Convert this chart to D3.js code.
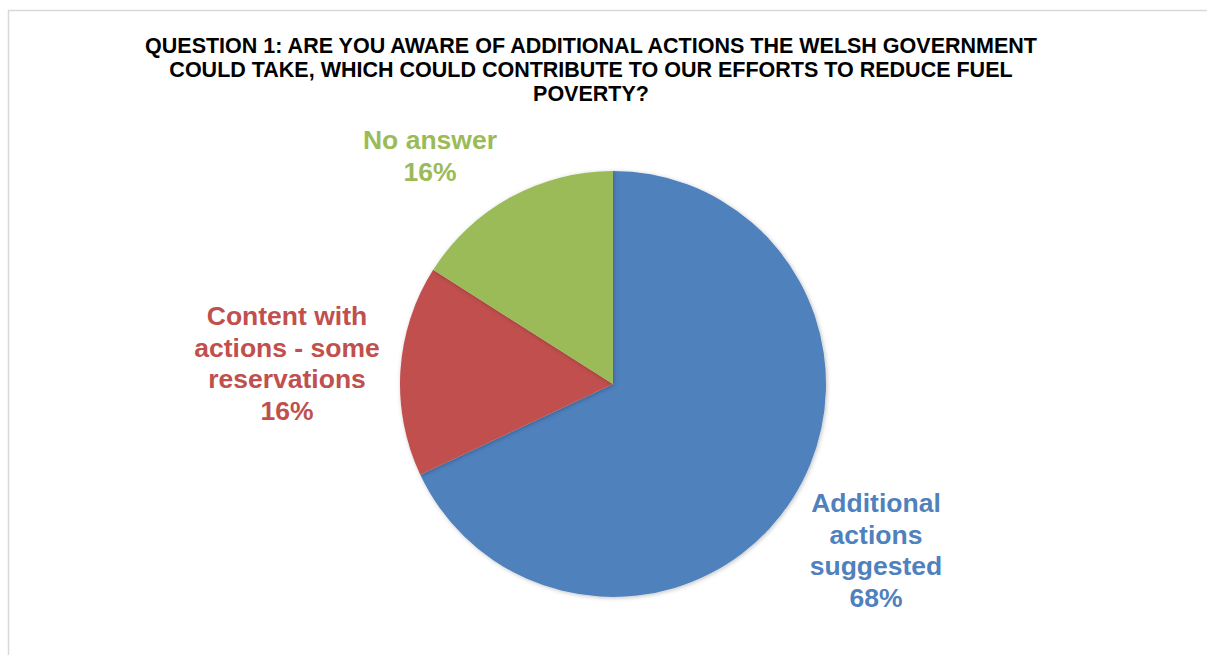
<!DOCTYPE html>
<html>
<head>
<meta charset="utf-8">
<script src="https://cdn.jsdelivr.net/npm/d3@7"></script>
<style>
  body { margin: 0; background: #fff; }
  svg { display: block; font-family: "Liberation Sans", Arial, sans-serif; }
</style>
</head>
<body>
<svg id="chart" width="1207" height="655"></svg>
<script>
const categories = ["Additional actions suggested", "Content with actions - some reservations", "No answer"];
const values = [68, 16, 16];
const colors = ["#4F81BD", "#C0504D", "#9BBB59"];
const labelLines = [
  ["Additional", "actions", "suggested"],
  ["Content with", "actions - some", "reservations"],
  ["No answer"]
];
const titleLines = [
  "QUESTION 1: ARE YOU AWARE OF ADDITIONAL ACTIONS THE WELSH GOVERNMENT",
  "COULD TAKE, WHICH COULD CONTRIBUTE TO OUR EFFORTS TO REDUCE FUEL",
  "POVERTY?"
];

const svg = d3.select("#chart");

// chart frame
svg.append("rect")
  .attr("x", 8.5).attr("y", 10.5)
  .attr("width", 1300).attr("height", 700)
  .attr("fill", "none")
  .attr("stroke", "#d9d9d9")
  .attr("stroke-width", 1.5);

svg.append("text")
  .attr("text-anchor", "middle")
  .attr("font-weight", "bold")
  .attr("font-size", 21.5)
  .attr("fill", "#000")
  .selectAll("tspan")
  .data(titleLines).enter()
  .append("tspan")
  .attr("x", 591)
  .attr("y", (d, i) => 52.5 + i * 24)
  .text(d => d);

const cx = 613, cy = 384, r = 213;
const pie = d3.pie().sort(null).value(d => d)(values);
const arc = d3.arc().innerRadius(0).outerRadius(r);

const defs = svg.append("defs");
const f = defs.append("filter").attr("id", "shadow").attr("x", "-10%").attr("y", "-10%").attr("width", "120%").attr("height", "120%");
f.append("feDropShadow").attr("dx", 1).attr("dy", 1).attr("stdDeviation", 2).attr("flood-color", "#000").attr("flood-opacity", 0.25);

const g = svg.append("g").attr("transform", `translate(${cx},${cy})`);
g.selectAll("path")
  .data(pie).enter()
  .append("path")
  .attr("d", arc)
  .attr("fill", (d, i) => colors[i])
  .attr("filter", "url(#shadow)");

// label positions (centre x, first baseline y)
const labelPos = [[876, 512], [287, 325], [430, 149]];
const lineH = 31.5;
labelLines.forEach((lines, i) => {
  const t = svg.append("text")
    .attr("text-anchor", "middle")
    .attr("font-weight", "bold")
    .attr("font-size", 26.5)
    .attr("fill", colors[i]);
  lines.concat([values[i] + "%"]).forEach((s, j) => {
    t.append("tspan")
      .attr("x", labelPos[i][0])
      .attr("y", labelPos[i][1] + j * lineH)
      .text(s);
  });
});
</script>
</body>
</html>
